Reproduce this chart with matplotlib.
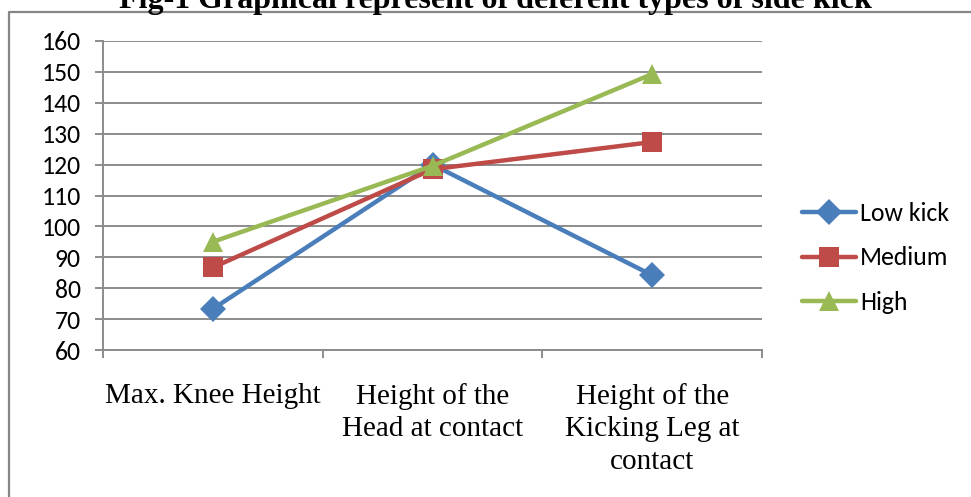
import matplotlib
matplotlib.use("Agg")
import matplotlib.pyplot as plt
from matplotlib.lines import Line2D

categories = ["Max. Knee Height",
              "Height of the\nHead at contact",
              "Height of the\nKicking Leg at\ncontact"]
low_kick = [73.3, 120.0, 84.2]
medium = [86.7, 118.5, 127.3]
high = [95.0, 119.6, 149.3]
series_names = ["Low kick", "Medium", "High"]
y_ticks = [60, 70, 80, 90, 100, 110, 120, 130, 140, 150, 160]

colors = ["#4A7EBB", "#BE4B48", "#98B954"]
markers = ["D", "s", "^"]
msizes = [13, 14, 15]

sans = ["Carlito", "Lato", "DejaVu Sans"]
serif = ["Liberation Serif", "DejaVu Serif"]
grid_c = "#8C8C8C"

W, H = 971, 497
fig = plt.figure(figsize=(W / 100, H / 100), dpi=100)
ax = fig.add_axes([103 / W, 1 - 350 / H, (762 - 103) / W, (350 - 41) / H])

x = range(len(categories))
for vals, name, c, m, ms in zip([low_kick, medium, high], series_names, colors, markers, msizes):
    ax.plot(x, vals, color=c, lw=3.2, marker=m, markersize=ms, label=name,
            markeredgewidth=0, solid_capstyle="round", zorder=3)

ax.set_xlim(-0.5, 2.5)
ax.set_ylim(60, 160)
ax.set_yticks(y_ticks)
ax.set_yticklabels([str(v) for v in y_ticks], family=sans, fontsize=18.5)
ax.grid(axis="y", color=grid_c, lw=1.4)
ax.set_axisbelow(True)

# метки категорий - через minor ticks, деления - по границам категорий
ax.set_xticks([-0.5, 0.5, 1.5, 2.5])
ax.set_xticklabels([])
ax.set_xticks(list(x), minor=True)
ax.set_xticklabels(categories, minor=True, family=serif, fontsize=21, linespacing=1.34)
ax.tick_params(axis="x", which="minor", length=0, pad=23.5)
ax.tick_params(axis="x", which="major", length=6, color=grid_c, width=1.4)
ax.tick_params(axis="y", length=6, color=grid_c, width=1.4, pad=10)

for s in ["top", "right"]:
    ax.spines[s].set_visible(False)
for s in ["left", "bottom"]:
    ax.spines[s].set_color(grid_c)
    ax.spines[s].set_linewidth(1.4)

fig.legend(loc="center left", bbox_to_anchor=(779 / W, 1 - 258 / H), frameon=False,
           prop={"family": sans, "size": 18.5}, handlelength=2.1, handletextpad=0.15,
           labelspacing=0.85)

# рамка диаграммы и обрезанный заголовок
fig.add_artist(Line2D([9 / W, 9 / W, 1], [0, 1 - 12 / H, 1 - 12 / H],
                      transform=fig.transFigure, color="#868686", lw=1.6))
fig.text(495 / W, 1 - 8 / H, "Fig-1 Graphical represent of deferent types of side kick",
         ha="center", va="baseline", family=serif, fontweight="bold", fontsize=23)

fig.savefig("out.png", dpi=100)
